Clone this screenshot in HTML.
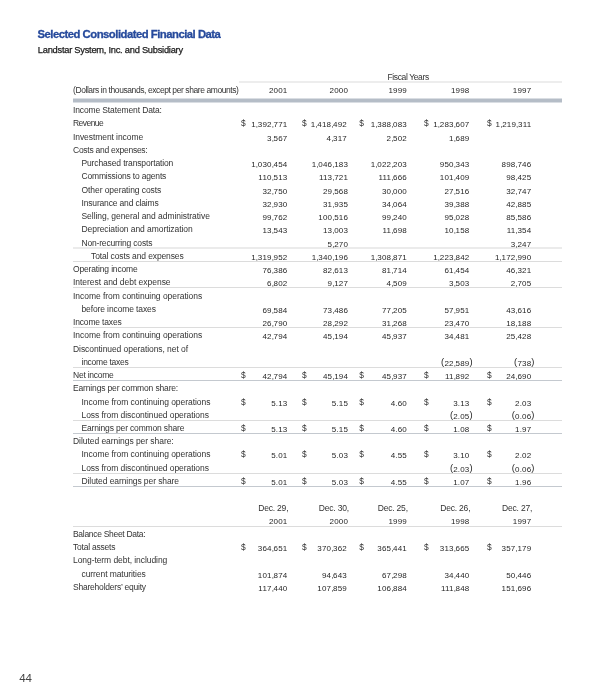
<!DOCTYPE html>
<html><head><meta charset="utf-8"><title>Selected Consolidated Financial Data</title>
<style>
html,body{margin:0;padding:0;background:#fff}
body{width:612px;height:700px;overflow:hidden;position:relative;will-change:transform;font-family:"Liberation Sans",sans-serif;color:#333}
.t,.n,.dl,.hd{position:absolute;white-space:nowrap;line-height:10px}
.t{font-size:8.5px;letter-spacing:-0.12px}
.hd{font-size:8.5px;letter-spacing:-0.38px}
.dh{letter-spacing:-0.42px}
.n{font-size:8.0px;letter-spacing:0.18px;text-align:right;color:#262626}
.dl{font-size:8.4px}
.dc{letter-spacing:-0.2px}
.hp{position:absolute;left:100%}
.pp{font-weight:normal;font-size:9.4px;line-height:0;position:relative;top:-1.2px}
.c{font-style:normal;margin-right:-0.45px}
.ln{position:absolute}
.title{position:absolute;left:37.5px;top:28px;font-size:11.3px;font-weight:bold;color:#264a9c;-webkit-text-stroke:0.3px #264a9c;letter-spacing:-0.5px;line-height:13px;white-space:nowrap}
.sub{position:absolute;left:37.8px;top:45px;font-size:9.3px;color:#1a1a1a;-webkit-text-stroke:0.25px #1a1a1a;letter-spacing:-0.25px;line-height:11px;white-space:nowrap}
.pg{position:absolute;left:19.2px;top:672px;font-size:11.5px;color:#444;line-height:13px}
</style></head><body>
<div class="title">Selected Consolidated Financial Data</div>
<div class="sub">Landstar System, Inc. and Subsidiary</div>
<div class="ln" style="left:239px;width:323px;top:81px;height:2px;background:#ededed"></div>
<div class="ln" style="left:73px;width:489px;top:98px;height:5px;background:#dadee3"></div>
<div class="ln" style="left:73px;width:489px;top:99px;height:3px;background:#b5bdc7"></div>
<div class="ln" style="left:73px;width:489px;top:247px;height:2px;background:#ebebeb"></div>
<div class="ln" style="left:73px;width:489px;top:261px;height:1px;background:#dcdcdc"></div>
<div class="ln" style="left:73px;width:489px;top:287px;height:1px;background:#dcdcdc"></div>
<div class="ln" style="left:73px;width:489px;top:327px;height:1px;background:#dcdcdc"></div>
<div class="ln" style="left:73px;width:489px;top:367px;height:1px;background:#dcdcdc"></div>
<div class="ln" style="left:73px;width:489px;top:380px;height:1px;background:#c4c9cf"></div>
<div class="ln" style="left:73px;width:489px;top:420px;height:1px;background:#dcdcdc"></div>
<div class="ln" style="left:73px;width:489px;top:433px;height:1px;background:#c4c9cf"></div>
<div class="ln" style="left:73px;width:489px;top:473px;height:1px;background:#dcdcdc"></div>
<div class="ln" style="left:73px;width:489px;top:486px;height:1px;background:#c4c9cf"></div>
<div class="ln" style="left:73px;width:489px;top:526px;height:1px;background:#dcdcdc"></div>
<div class="hd" style="left:387.5px;top:72px">Fiscal Years</div>
<div class="hd dh" style="left:73px;top:85px">(Dollars in thousands, except per share amounts)</div>
<div class="n" style="right:324.5px;top:86px">2001</div>
<div class="n" style="right:263.9px;top:86px">2000</div>
<div class="n" style="right:205px;top:86px">1999</div>
<div class="n" style="right:142.5px;top:86px">1998</div>
<div class="n" style="right:80.7px;top:86px">1997</div>
<div class="hd dc" style="right:323.7px;top:503px">Dec. 29,</div>
<div class="n" style="right:324.5px;top:517px">2001</div>
<div class="hd dc" style="right:263.1px;top:503px">Dec. 30,</div>
<div class="n" style="right:263.9px;top:517px">2000</div>
<div class="hd dc" style="right:204.2px;top:503px">Dec. 25,</div>
<div class="n" style="right:205px;top:517px">1999</div>
<div class="hd dc" style="right:141.7px;top:503px">Dec. 26,</div>
<div class="n" style="right:142.5px;top:517px">1998</div>
<div class="hd dc" style="right:79.9px;top:503px">Dec. 27,</div>
<div class="n" style="right:80.7px;top:517px">1997</div>
<div class="t" style="left:73px;top:105px;letter-spacing:-0.129px">Income Statement Data:</div>
<div class="t" style="left:73px;top:118px;letter-spacing:-0.540px">Revenue</div>
<div class="n" style="right:324.5px;top:120px">1<i class="c">,</i>392<i class="c">,</i>771</div>
<div class="dl" style="left:241px;top:118px">$</div>
<div class="n" style="right:265px;top:120px">1<i class="c">,</i>418<i class="c">,</i>492</div>
<div class="dl" style="left:302px;top:118px">$</div>
<div class="n" style="right:205px;top:120px">1<i class="c">,</i>388<i class="c">,</i>083</div>
<div class="dl" style="left:359.2px;top:118px">$</div>
<div class="n" style="right:142.5px;top:120px">1<i class="c">,</i>283<i class="c">,</i>607</div>
<div class="dl" style="left:424px;top:118px">$</div>
<div class="n" style="right:80.7px;top:120px">1<i class="c">,</i>219<i class="c">,</i>311</div>
<div class="dl" style="left:487px;top:118px">$</div>
<div class="t" style="left:73px;top:132px;letter-spacing:-0.075px">Investment income</div>
<div class="n" style="right:324.5px;top:134px">3<i class="c">,</i>567</div>
<div class="n" style="right:265px;top:134px">4<i class="c">,</i>317</div>
<div class="n" style="right:205px;top:134px">2<i class="c">,</i>502</div>
<div class="n" style="right:142.5px;top:134px">1<i class="c">,</i>689</div>
<div class="t" style="left:73px;top:145px;letter-spacing:-0.260px">Costs and expenses:</div>
<div class="t" style="left:81.5px;top:158px;letter-spacing:-0.136px">Purchased transportation</div>
<div class="n" style="right:324.5px;top:160px">1<i class="c">,</i>030<i class="c">,</i>454</div>
<div class="n" style="right:263.9px;top:160px">1<i class="c">,</i>046<i class="c">,</i>183</div>
<div class="n" style="right:205px;top:160px">1<i class="c">,</i>022<i class="c">,</i>203</div>
<div class="n" style="right:142.5px;top:160px">950<i class="c">,</i>343</div>
<div class="n" style="right:80.7px;top:160px">898<i class="c">,</i>746</div>
<div class="t" style="left:81.5px;top:171px;letter-spacing:-0.174px">Commissions to agents</div>
<div class="n" style="right:324.5px;top:173px">110<i class="c">,</i>513</div>
<div class="n" style="right:263.9px;top:173px">113<i class="c">,</i>721</div>
<div class="n" style="right:205px;top:173px">111<i class="c">,</i>666</div>
<div class="n" style="right:142.5px;top:173px">101<i class="c">,</i>409</div>
<div class="n" style="right:80.7px;top:173px">98<i class="c">,</i>425</div>
<div class="t" style="left:81.5px;top:185px;letter-spacing:-0.075px">Other operating costs</div>
<div class="n" style="right:324.5px;top:187px">32<i class="c">,</i>750</div>
<div class="n" style="right:263.9px;top:187px">29<i class="c">,</i>568</div>
<div class="n" style="right:205px;top:187px">30<i class="c">,</i>000</div>
<div class="n" style="right:142.5px;top:187px">27<i class="c">,</i>516</div>
<div class="n" style="right:80.7px;top:187px">32<i class="c">,</i>747</div>
<div class="t" style="left:81.5px;top:198px;letter-spacing:-0.167px">Insurance and claims</div>
<div class="n" style="right:324.5px;top:200px">32<i class="c">,</i>930</div>
<div class="n" style="right:263.9px;top:200px">31<i class="c">,</i>935</div>
<div class="n" style="right:205px;top:200px">34<i class="c">,</i>064</div>
<div class="n" style="right:142.5px;top:200px">39<i class="c">,</i>388</div>
<div class="n" style="right:80.7px;top:200px">42<i class="c">,</i>885</div>
<div class="t" style="left:81.5px;top:211px;letter-spacing:-0.046px">Selling, general and administrative</div>
<div class="n" style="right:324.5px;top:213px">99<i class="c">,</i>762</div>
<div class="n" style="right:263.9px;top:213px">100<i class="c">,</i>516</div>
<div class="n" style="right:205px;top:213px">99<i class="c">,</i>240</div>
<div class="n" style="right:142.5px;top:213px">95<i class="c">,</i>028</div>
<div class="n" style="right:80.7px;top:213px">85<i class="c">,</i>586</div>
<div class="t" style="left:81.5px;top:224px;letter-spacing:-0.062px">Depreciation and amortization</div>
<div class="n" style="right:324.5px;top:226px">13<i class="c">,</i>543</div>
<div class="n" style="right:263.9px;top:226px">13<i class="c">,</i>003</div>
<div class="n" style="right:205px;top:226px">11<i class="c">,</i>698</div>
<div class="n" style="right:142.5px;top:226px">10<i class="c">,</i>158</div>
<div class="n" style="right:80.7px;top:226px">11<i class="c">,</i>354</div>
<div class="t" style="left:81.5px;top:238px;letter-spacing:-0.180px">Non-recurring costs</div>
<div class="n" style="right:263.9px;top:240px">5<i class="c">,</i>270</div>
<div class="n" style="right:80.7px;top:240px">3<i class="c">,</i>247</div>
<div class="t" style="left:91px;top:251px;letter-spacing:-0.120px">Total costs and expenses</div>
<div class="n" style="right:324.5px;top:253px">1<i class="c">,</i>319<i class="c">,</i>952</div>
<div class="n" style="right:263.9px;top:253px">1<i class="c">,</i>340<i class="c">,</i>196</div>
<div class="n" style="right:205px;top:253px">1<i class="c">,</i>308<i class="c">,</i>871</div>
<div class="n" style="right:142.5px;top:253px">1<i class="c">,</i>223<i class="c">,</i>842</div>
<div class="n" style="right:80.7px;top:253px">1<i class="c">,</i>172<i class="c">,</i>990</div>
<div class="t" style="left:73px;top:264px;letter-spacing:-0.156px">Operating income</div>
<div class="n" style="right:324.5px;top:266px">76<i class="c">,</i>386</div>
<div class="n" style="right:263.9px;top:266px">82<i class="c">,</i>613</div>
<div class="n" style="right:205px;top:266px">81<i class="c">,</i>714</div>
<div class="n" style="right:142.5px;top:266px">61<i class="c">,</i>454</div>
<div class="n" style="right:80.7px;top:266px">46<i class="c">,</i>321</div>
<div class="t" style="left:73px;top:277px;letter-spacing:-0.030px">Interest and debt expense</div>
<div class="n" style="right:324.5px;top:279px">6<i class="c">,</i>802</div>
<div class="n" style="right:263.9px;top:279px">9<i class="c">,</i>127</div>
<div class="n" style="right:205px;top:279px">4<i class="c">,</i>509</div>
<div class="n" style="right:142.5px;top:279px">3<i class="c">,</i>503</div>
<div class="n" style="right:80.7px;top:279px">2<i class="c">,</i>705</div>
<div class="t" style="left:73px;top:291px;letter-spacing:-0.036px">Income from continuing operations</div>
<div class="t" style="left:81.5px;top:304px;letter-spacing:-0.120px">before income taxes</div>
<div class="n" style="right:324.5px;top:306px">69<i class="c">,</i>584</div>
<div class="n" style="right:263.9px;top:306px">73<i class="c">,</i>486</div>
<div class="n" style="right:205px;top:306px">77<i class="c">,</i>205</div>
<div class="n" style="right:142.5px;top:306px">57<i class="c">,</i>951</div>
<div class="n" style="right:80.7px;top:306px">43<i class="c">,</i>616</div>
<div class="t" style="left:73px;top:317px;letter-spacing:-0.169px">Income taxes</div>
<div class="n" style="right:324.5px;top:319px">26<i class="c">,</i>790</div>
<div class="n" style="right:263.9px;top:319px">28<i class="c">,</i>292</div>
<div class="n" style="right:205px;top:319px">31<i class="c">,</i>268</div>
<div class="n" style="right:142.5px;top:319px">23<i class="c">,</i>470</div>
<div class="n" style="right:80.7px;top:319px">18<i class="c">,</i>188</div>
<div class="t" style="left:73px;top:330px;letter-spacing:-0.036px">Income from continuing operations</div>
<div class="n" style="right:324.5px;top:332px">42<i class="c">,</i>794</div>
<div class="n" style="right:263.9px;top:332px">45<i class="c">,</i>194</div>
<div class="n" style="right:205px;top:332px">45<i class="c">,</i>937</div>
<div class="n" style="right:142.5px;top:332px">34<i class="c">,</i>481</div>
<div class="n" style="right:80.7px;top:332px">25<i class="c">,</i>428</div>
<div class="t" style="left:73px;top:344px;letter-spacing:-0.072px">Discontinued operations, net of</div>
<div class="t" style="left:81.5px;top:357px;letter-spacing:-0.251px">income taxes</div>
<div class="n" style="right:142.5px;top:359px"><b class="pp">(</b>22<i class="c">,</i>589<span class="hp"><b class="pp">)</b></span></div>
<div class="n" style="right:80.7px;top:359px"><b class="pp">(</b>738<span class="hp"><b class="pp">)</b></span></div>
<div class="t" style="left:73px;top:370px;letter-spacing:-0.240px">Net income</div>
<div class="n" style="right:324.5px;top:372px">42<i class="c">,</i>794</div>
<div class="dl" style="left:241px;top:370px">$</div>
<div class="n" style="right:263.9px;top:372px">45<i class="c">,</i>194</div>
<div class="dl" style="left:302px;top:370px">$</div>
<div class="n" style="right:205px;top:372px">45<i class="c">,</i>937</div>
<div class="dl" style="left:359.2px;top:370px">$</div>
<div class="n" style="right:142.5px;top:372px">11<i class="c">,</i>892</div>
<div class="dl" style="left:424px;top:370px">$</div>
<div class="n" style="right:80.7px;top:372px">24<i class="c">,</i>690</div>
<div class="dl" style="left:487px;top:370px">$</div>
<div class="t" style="left:73px;top:383px;letter-spacing:-0.156px">Earnings per common share:</div>
<div class="t" style="left:81.5px;top:397px;letter-spacing:-0.047px">Income from continuing operations</div>
<div class="n" style="right:324.5px;top:399px">5.13</div>
<div class="dl" style="left:241px;top:397px">$</div>
<div class="n" style="right:263.9px;top:399px">5.15</div>
<div class="dl" style="left:302px;top:397px">$</div>
<div class="n" style="right:205px;top:399px">4.60</div>
<div class="dl" style="left:359.2px;top:397px">$</div>
<div class="n" style="right:142.5px;top:399px">3.13</div>
<div class="dl" style="left:424px;top:397px">$</div>
<div class="n" style="right:80.7px;top:399px">2.03</div>
<div class="dl" style="left:487px;top:397px">$</div>
<div class="t" style="left:81.5px;top:410px;letter-spacing:-0.064px">Loss from discontinued operations</div>
<div class="n" style="right:142.5px;top:412px"><b class="pp">(</b>2.05<span class="hp"><b class="pp">)</b></span></div>
<div class="n" style="right:80.7px;top:412px"><b class="pp">(</b>0.06<span class="hp"><b class="pp">)</b></span></div>
<div class="t" style="left:81.5px;top:423px;letter-spacing:-0.158px">Earnings per common share</div>
<div class="n" style="right:324.5px;top:425px">5.13</div>
<div class="dl" style="left:241px;top:423px">$</div>
<div class="n" style="right:263.9px;top:425px">5.15</div>
<div class="dl" style="left:302px;top:423px">$</div>
<div class="n" style="right:205px;top:425px">4.60</div>
<div class="dl" style="left:359.2px;top:423px">$</div>
<div class="n" style="right:142.5px;top:425px">1.08</div>
<div class="dl" style="left:424px;top:423px">$</div>
<div class="n" style="right:80.7px;top:425px">1.97</div>
<div class="dl" style="left:487px;top:423px">$</div>
<div class="t" style="left:73px;top:436px;letter-spacing:-0.051px">Diluted earnings per share:</div>
<div class="t" style="left:81.5px;top:449px;letter-spacing:-0.047px">Income from continuing operations</div>
<div class="n" style="right:324.5px;top:451px">5.01</div>
<div class="dl" style="left:241px;top:449px">$</div>
<div class="n" style="right:263.9px;top:451px">5.03</div>
<div class="dl" style="left:302px;top:449px">$</div>
<div class="n" style="right:205px;top:451px">4.55</div>
<div class="dl" style="left:359.2px;top:449px">$</div>
<div class="n" style="right:142.5px;top:451px">3.10</div>
<div class="dl" style="left:424px;top:449px">$</div>
<div class="n" style="right:80.7px;top:451px">2.02</div>
<div class="dl" style="left:487px;top:449px">$</div>
<div class="t" style="left:81.5px;top:463px;letter-spacing:-0.064px">Loss from discontinued operations</div>
<div class="n" style="right:142.5px;top:465px"><b class="pp">(</b>2.03<span class="hp"><b class="pp">)</b></span></div>
<div class="n" style="right:80.7px;top:465px"><b class="pp">(</b>0.06<span class="hp"><b class="pp">)</b></span></div>
<div class="t" style="left:81.5px;top:476px;letter-spacing:-0.084px">Diluted earnings per share</div>
<div class="n" style="right:324.5px;top:478px">5.01</div>
<div class="dl" style="left:241px;top:476px">$</div>
<div class="n" style="right:263.9px;top:478px">5.03</div>
<div class="dl" style="left:302px;top:476px">$</div>
<div class="n" style="right:205px;top:478px">4.55</div>
<div class="dl" style="left:359.2px;top:476px">$</div>
<div class="n" style="right:142.5px;top:478px">1.07</div>
<div class="dl" style="left:424px;top:476px">$</div>
<div class="n" style="right:80.7px;top:478px">1.96</div>
<div class="dl" style="left:487px;top:476px">$</div>
<div class="t" style="left:73px;top:529px;letter-spacing:-0.300px">Balance Sheet Data:</div>
<div class="t" style="left:73px;top:542px;letter-spacing:-0.218px">Total assets</div>
<div class="n" style="right:324.5px;top:544px">364<i class="c">,</i>651</div>
<div class="dl" style="left:241px;top:542px">$</div>
<div class="n" style="right:265px;top:544px">370<i class="c">,</i>362</div>
<div class="dl" style="left:302px;top:542px">$</div>
<div class="n" style="right:205px;top:544px">365<i class="c">,</i>441</div>
<div class="dl" style="left:359.2px;top:542px">$</div>
<div class="n" style="right:142.5px;top:544px">313<i class="c">,</i>665</div>
<div class="dl" style="left:424px;top:542px">$</div>
<div class="n" style="right:80.7px;top:544px">357<i class="c">,</i>179</div>
<div class="dl" style="left:487px;top:542px">$</div>
<div class="t" style="left:73px;top:555px;letter-spacing:-0.068px">Long-term debt, including</div>
<div class="t" style="left:81.5px;top:569px;letter-spacing:-0.078px">current maturities</div>
<div class="n" style="right:324.5px;top:571px">101<i class="c">,</i>874</div>
<div class="n" style="right:265px;top:571px">94<i class="c">,</i>643</div>
<div class="n" style="right:205px;top:571px">67<i class="c">,</i>298</div>
<div class="n" style="right:142.5px;top:571px">34<i class="c">,</i>440</div>
<div class="n" style="right:80.7px;top:571px">50<i class="c">,</i>446</div>
<div class="t" style="left:73px;top:582px;letter-spacing:-0.215px">Shareholders’ equity</div>
<div class="n" style="right:324.5px;top:584px">117<i class="c">,</i>440</div>
<div class="n" style="right:265px;top:584px">107<i class="c">,</i>859</div>
<div class="n" style="right:205px;top:584px">106<i class="c">,</i>884</div>
<div class="n" style="right:142.5px;top:584px">111<i class="c">,</i>848</div>
<div class="n" style="right:80.7px;top:584px">151<i class="c">,</i>696</div>
<div class="pg">44</div>
</body></html>
